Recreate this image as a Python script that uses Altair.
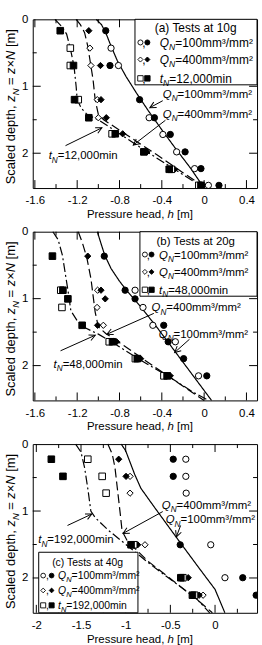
import math
import altair as alt
import pandas as pd

FONT = "Liberation Sans"
PLOT_W, PLOT_H = 226, 170
DEPTH_MAX = 2.52

# ------------------------------------------------------------------
# Pressure head h [m] against scaled depth zN [m]
# q100 = QN 100 mm3/mm2, q400 = QN 400 mm3/mm2, t = elapsed tN
# ------------------------------------------------------------------

# (a) tests at 10 g
a_q100_open_h = [-0.88, -0.81, -0.52, -0.39, -0.26, -0.09, 0.04]
a_q100_open_z = [0.43, 0.69, 1.47, 1.72, 1.98, 2.23, 2.48]
a_q100_fill_h = [-0.93, -0.89, -0.61, -0.47, -0.32, -0.18, -0.03, 0.14]
a_q100_fill_z = [0.17, 0.69, 1.20, 1.47, 1.72, 1.98, 2.23, 2.48]
a_q400_open_h = [-1.08, -1.07, -1.01, -1.00, -0.04]
a_q400_open_z = [0.43, 0.69, 1.20, 1.47, 2.48]
a_q400_fill_h = [-1.09, -0.98, -0.975, -0.925, -0.77, -0.54, -0.28, -0.02]
a_q400_fill_z = [0.17, 0.69, 1.20, 1.47, 1.71, 1.98, 2.24, 2.48]
a_t_open_h = [-1.265, -1.265, -1.19, -0.87, -0.31, -0.05]
a_t_open_z = [0.43, 0.69, 1.20, 1.71, 2.24, 2.48]
a_t_fill_h = [-1.36, -1.235, -1.225, -1.09, -0.84, -0.57, -0.33, -0.03]
a_t_fill_z = [0.17, 0.69, 1.20, 1.47, 1.71, 1.98, 2.24, 2.48]

a_q100_line_h = [-1.02, -0.97, -0.93, -0.88, -0.82, -0.74, -0.64, -0.53, -0.40, -0.27, -0.13, 0.0]
a_q100_line_z = [0.0, 0.08, 0.2, 0.4, 0.62, 0.85, 1.1, 1.36, 1.65, 1.93, 2.22, 2.52]
a_q400_line_h = [-1.21, -1.17, -1.13, -1.10, -1.08, -1.05, -1.03, -1.00, -0.95, -0.70, -0.45, -0.20, 0.0]
a_q400_line_z = [0.0, 0.08, 0.2, 0.4, 0.6, 0.9, 1.2, 1.42, 1.5, 1.76, 2.02, 2.29, 2.5]
a_t_line_h = [-1.41, -1.35, -1.30, -1.27, -1.23, -1.21, -1.20, -1.16, -1.10, -1.00, -0.75, -0.50, -0.25, -0.02]
a_t_line_z = [0.0, 0.1, 0.22, 0.4, 0.7, 1.0, 1.2, 1.33, 1.43, 1.5, 1.76, 2.02, 2.27, 2.5]

# (b) tests at 20 g
b_q100_open_h = [-0.653, -0.578, -0.485, -0.272, -0.053]
b_q100_open_z = [0.874, 1.131, 1.398, 1.644, 2.153]
b_q100_fill_h = [-0.944, -0.747, -0.653, -0.382, -0.34, -0.194, 0.025]
b_q100_fill_z = [0.365, 0.874, 1.003, 1.398, 1.644, 1.896, 2.153]
b_q400_open_h = [-1.007, -1.012, -0.953]
b_q400_open_z = [0.874, 1.131, 1.398]
b_q400_fill_h = [-1.10, -0.975, -0.935, -1.007, -0.828, -0.60, -0.32]
b_q400_fill_z = [0.365, 0.874, 1.003, 1.398, 1.644, 1.896, 2.153]
b_t_open_h = [-1.355, -1.344, -0.897, -0.65, -0.38]
b_t_open_z = [0.874, 1.131, 1.644, 1.896, 2.153]
b_t_fill_h = [-1.434, -1.335, -1.288, -1.153, -0.866, -0.632, -0.35]
b_t_fill_z = [0.365, 0.874, 1.003, 1.398, 1.644, 1.896, 2.153]

b_q100_line_h = [-1.01, -0.98, -0.94, -0.88, -0.80, -0.72, -0.60, -0.45, -0.27, -0.10, 0.07]
b_q100_line_z = [0.0, 0.15, 0.35, 0.55, 0.74, 0.9, 1.12, 1.42, 1.8, 2.16, 2.52]
b_q400_line_h = [-1.19, -1.15, -1.11, -1.07, -1.05, -1.03, -1.00, -0.93, -0.76, -0.55, -0.30, 0.0]
b_q400_line_z = [0.0, 0.17, 0.38, 0.7, 0.95, 1.2, 1.42, 1.52, 1.7, 1.93, 2.2, 2.52]
b_t_line_h = [-1.43, -1.38, -1.34, -1.31, -1.28, -1.26, -1.20, -1.12, -1.00, -0.88, -0.62, -0.34, -0.10, 0.04]
b_t_line_z = [0.0, 0.12, 0.35, 0.65, 0.95, 1.18, 1.33, 1.44, 1.53, 1.64, 1.9, 2.16, 2.4, 2.52]

# (c) tests at 40 g
c_q100_open_h = [-0.327, -0.327, -0.323, -0.048, 0.111]
c_q100_open_z = [0.226, 0.482, 0.733, 1.504, 1.996]
c_q100_fill_h = [-0.468, -0.468, -0.39, 0.31, 0.46]
c_q100_fill_z = [0.226, 0.482, 1.504, 1.996, 2.257]
c_q400_open_h = [-0.951, -0.951, -0.784, -0.134]
c_q400_open_z = [0.482, 0.733, 1.504, 2.257]
c_q400_fill_h = [-1.078, -0.996, -0.866, -0.30, -0.178]
c_q400_fill_z = [0.226, 0.482, 1.504, 1.996, 2.257]
c_t_open_h = [-1.424, -1.263, -1.219, -0.91, -0.36, -0.23]
c_t_open_z = [0.226, 0.482, 0.733, 1.504, 1.996, 2.257]
c_t_fill_h = [-1.832, -1.702, -0.94, -0.383, -0.253]
c_t_fill_z = [0.226, 0.482, 1.504, 1.996, 2.257]

c_q100_line_h = [-1.05, -1.00, -0.96, -0.90, -0.83, -0.68, -0.44, -0.18, 0.0, 0.11]
c_q100_line_z = [0.0, 0.1, 0.24, 0.45, 0.66, 0.94, 1.38, 1.85, 2.17, 2.52]
c_q400_line_h = [-1.20, -1.15, -1.12, -1.09, -1.06, -1.04, -0.98, -0.75, -0.47, -0.22, -0.03]
c_q400_line_z = [0.0, 0.15, 0.35, 0.7, 1.05, 1.3, 1.45, 1.75, 2.04, 2.3, 2.52]
c_t_line_h = [-1.56, -1.50, -1.46, -1.42, -1.39, -1.34, -1.20, -0.96, -0.72, -0.42, -0.20, -0.06]
c_t_line_z = [0.0, 0.12, 0.35, 0.7, 1.0, 1.1, 1.28, 1.54, 1.8, 2.1, 2.32, 2.52]

# axis ticks and labels
AB_XTICKS = [-1.6, -1.4, -1.2, -1.0, -0.8, -0.6, -0.4, -0.2, 0.0, 0.2, 0.4]
AB_XLABELS = [-1.6, -1.2, -0.8, -0.4, 0.0, 0.4]
C_XTICKS = [-2.0, -1.75, -1.5, -1.25, -1.0, -0.75, -0.5, -0.25, 0.0, 0.25]
C_XLABELS = [-2.0, -1.5, -1.0, -0.5, 0.0]
Z_TICKS = [0.5, 1.0, 1.5, 2.0]
Z_LABELS = [0, 1, 2]

# ------------------------------------------------------------------
# rich text helpers (Arial / Liberation Sans advance widths, 1/1000 em)
# ------------------------------------------------------------------
ADV = {' ': 278, '(': 333, ')': 333, ',': 278, '-': 333, '.': 278, '/': 278,
       '=': 584, '[': 278, ']': 278, '×': 584, '²': 333, '³': 333,
       'a': 556, 'b': 556, 'c': 500, 'd': 556, 'e': 556, 'g': 556, 'h': 556,
       'i': 222, 'l': 222, 'm': 833, 'n': 556, 'p': 556, 'r': 333, 's': 500,
       't': 278, 'u': 556, 'z': 500, 'N': 722, 'P': 667, 'Q': 778, 'S': 667,
       'T': 611}
SUB_SCALE = 0.72


def text_width(s, size):
    return sum(ADV.get(c, 556) for c in s) * size / 1000.0


def rich(runs, px, py, size, align="left", angle=0):
    """Lay out runs of (text, italic, subscript) one after another."""
    sizes = [size * SUB_SCALE if sub else size for _, _, sub in runs]
    widths = [text_width(t, s) for (t, _, _), s in zip(runs, sizes)]
    pos = {"left": 0.0, "center": -sum(widths) / 2, "right": -sum(widths)}[align]
    rows = []
    for (t, italic, sub), s, w in zip(runs, sizes, widths):
        body = t.strip(" ")
        lead = text_width(t[:len(t) - len(t.lstrip(" "))], s)
        drop = 0.3 * size if sub else 0.0
        if angle == 0:
            x, y = px + pos + lead, py + drop
        else:
            x, y = px + drop, py - pos - lead
        rows.append({"px": x, "py": y, "text": body, "italic": italic, "size": s, "angle": angle})
        pos += w
    return rows


QN100 = [("Q", True, False), ("N", True, True), ("=100mm³/mm²", False, False)]
QN400 = [("Q", True, False), ("N", True, True), ("=400mm³/mm²", False, False)]


def tn(label):
    return [("t", True, False), ("N", True, True), ("=" + label + "min", False, False)]


X_TITLE = [("Pressure head, ", False, False), ("h", True, False), (" [m]", False, False)]
Y_TITLE = [("Scaled depth, ", False, False), ("z", True, False), ("N", True, True),
           (" = ", False, False), ("z", True, False), ("×", False, False),
           ("N", True, False), (" [m]", False, False)]

PANELS = [
    dict(
        xdom=(-1.62, 0.5), xticks=AB_XTICKS, xlabels=AB_XLABELS,
        markers=[("circle", "open", a_q100_open_h, a_q100_open_z),
                 ("circle", "filled", a_q100_fill_h, a_q100_fill_z),
                 ("diamond", "open", a_q400_open_h, a_q400_open_z),
                 ("diamond", "filled", a_q400_fill_h, a_q400_fill_z),
                 ("square", "open", a_t_open_h, a_t_open_z),
                 ("square", "filled", a_t_fill_h, a_t_fill_z)],
        lines=[(a_q100_line_h, a_q100_line_z), (a_q400_line_h, a_q400_line_z), (a_t_line_h, a_t_line_z)],
        notes=[(QN100, 131, 79), (QN400, 131, 99), (tn("12,000"), 16, 141)],
        arrows=[(131, 82, 118, 89), (133.7, 101.7, 101.3, 126.7), (33, 127.3, 69.7, 109.3)],
        legend=dict(box=(103, 0, 226, 66), title="(a) Tests at 10g", title_xy=(165, 8.5),
                    rows=[23.3, 40.5, 59.5], mk=(108.5, 115.5), text_x=128, size=12, t="12,000"),
    ),
    dict(
        xdom=(-1.62, 0.5), xticks=AB_XTICKS, xlabels=AB_XLABELS,
        markers=[("circle", "open", b_q100_open_h, b_q100_open_z),
                 ("circle", "filled", b_q100_fill_h, b_q100_fill_z),
                 ("diamond", "open", b_q400_open_h, b_q400_open_z),
                 ("diamond", "filled", b_q400_fill_h, b_q400_fill_z),
                 ("square", "open", b_t_open_h, b_t_open_z),
                 ("square", "filled", b_t_fill_h, b_t_fill_z)],
        lines=[(b_q100_line_h, b_q100_line_z), (b_q400_line_h, b_q400_line_z), (b_t_line_h, b_t_line_z)],
        notes=[(QN400, 119.7, 80), (QN100, 127, 107), (tn("48,000"), 21, 137)],
        arrows=[(122, 82.3, 74.7, 103.3), (158, 108.3, 143, 121.7), (28, 120, 63, 104.3)],
        legend=dict(box=(108, 0, 226, 65), title="(b) Tests at 20g", title_xy=(165, 9.5),
                    rows=[23, 40.5, 58.5], mk=(113, 119.7), text_x=127.3, size=11.5, t="48,000"),
    ),
    dict(
        xdom=(-2.04, 0.47), xticks=C_XTICKS, xlabels=C_XLABELS,
        markers=[("circle", "open", c_q100_open_h, c_q100_open_z),
                 ("circle", "filled", c_q100_fill_h, c_q100_fill_z),
                 ("diamond", "open", c_q400_open_h, c_q400_open_z),
                 ("diamond", "filled", c_q400_fill_h, c_q400_fill_z),
                 ("square", "open", c_t_open_h, c_t_open_z),
                 ("square", "filled", c_t_fill_h, c_t_fill_z)],
        lines=[(c_q100_line_h, c_q100_line_z), (c_q400_line_h, c_q400_line_z), (c_t_line_h, c_t_line_z)],
        notes=[(QN400, 130, 65), (QN100, 134, 80), (tn("192,000"), 5.5, 100)],
        arrows=[(131, 68, 91, 90), (149, 82, 144.7, 93.5), (35, 82, 59.5, 70.5)],
        legend=dict(box=(6, 109, 106, 170), title="(c) Tests at 40g", title_xy=(56, 119.5),
                    rows=[132.5, 147.5, 162.5], mk=(10.5, 19), text_x=25.5, size=10.5, t="192,000"),
    ),
]

LINE_DASH = [[1, 0], [9, 4], [9, 3, 2, 3]]
MARK_SIZE = {"circle": 40, "diamond": 40, "square": 44}
ARROW_HEAD = "M-1,-0.5L0,0L-1,0.5"


def build_panel(p):
    x0, x1 = p["xdom"]
    kx = PLOT_W / (x1 - x0)
    ky = PLOT_H / DEPTH_MAX

    def hx(px):
        return x0 + px / kx

    def zy(py):
        return py / ky

    xs = alt.Scale(domain=[x0, x1], nice=False, zero=False)
    ys = alt.Scale(domain=[0, DEPTH_MAX], nice=False, zero=False, reverse=True)
    x_axis = alt.Axis(values=p["xlabels"], labelExpr="toString(datum.value)", ticks=False, tickSize=0,
                      domain=False, grid=False, title=None, labelFont=FONT, labelFontSize=11.5,
                      labelColor="black", labelPadding=7, labelFlush=False, labelOverlap=False)
    y_axis = alt.Axis(values=Z_LABELS, labelExpr="toString(datum.value)", ticks=False, tickSize=0,
                      domain=False, grid=False, title=None, labelFont=FONT, labelFontSize=11.5,
                      labelColor="black", labelPadding=5, labelFlush=False, labelOverlap=False)

    def X(f):
        return alt.X(f, type="quantitative", scale=xs, axis=x_axis)

    def Y(f):
        return alt.Y(f, type="quantitative", scale=ys, axis=y_axis)

    layers = []

    # inward ticks on all four sides
    vt = []
    for v in p["xticks"]:
        d = (8 if v in p["xlabels"] else 4) / ky
        vt.append({"v": v, "a": DEPTH_MAX, "b": DEPTH_MAX - d})
        vt.append({"v": v, "a": 0.0, "b": d})
    layers.append(alt.Chart(pd.DataFrame(vt)).mark_rule(color="black", strokeWidth=1).encode(
        x=X("v"), y=Y("a"), y2="b"))
    ht = []
    for v in Z_TICKS:
        d = (8 if v in Z_LABELS else 4) / kx
        ht.append({"v": v, "a": x0, "b": x0 + d})
        ht.append({"v": v, "a": x1, "b": x1 - d})
    layers.append(alt.Chart(pd.DataFrame(ht)).mark_rule(color="black", strokeWidth=1).encode(
        y=Y("v"), x=X("a"), x2="b"))

    # fitted profiles
    for (hs, zs), dash in zip(p["lines"], LINE_DASH):
        df = pd.DataFrame({"h": hs, "z": zs, "i": range(len(hs))})
        layers.append(alt.Chart(df).mark_line(color="black", strokeWidth=1.2, strokeDash=dash).encode(
            x=X("h"), y=Y("z"), order="i:Q"))

    # measured heads
    fill_scale = alt.Scale(domain=["open", "filled"], range=["white", "black"])
    for kind in ["circle", "diamond", "square"]:
        rows = []
        for k, state, hs, zs in p["markers"]:
            if k == kind:
                rows += [{"h": h, "z": z, "state": state} for h, z in zip(hs, zs)]
        layers.append(alt.Chart(pd.DataFrame(rows)).mark_point(
            shape=kind, filled=True, stroke="black", strokeWidth=1, opacity=1,
            size=MARK_SIZE[kind], clip=True).encode(
            x=X("h"), y=Y("z"), fill=alt.Fill("state:N", scale=fill_scale, legend=None)))

    # annotation arrows
    arr = []
    for sx, sy, tx, ty in p["arrows"]:
        ang = math.degrees(math.atan2(ty - sy, tx - sx)) % 360
        arr.append({"x": hx(sx), "y": zy(sy), "x2": hx(tx), "y2": zy(ty), "ang": ang})
    arr = pd.DataFrame(arr)
    layers.append(alt.Chart(arr).mark_rule(color="black", strokeWidth=1).encode(
        x=X("x"), y=Y("y"), x2="x2", y2="y2"))
    layers.append(alt.Chart(arr).mark_point(shape=ARROW_HEAD, filled=False, color="black",
                                            strokeWidth=1, size=150, opacity=1).encode(
        x=X("x2"), y=Y("y2"), angle=alt.Angle("ang:Q", scale=None)))

    # legend box
    lg = p["legend"]
    l, t, r, b = lg["box"]
    box = pd.DataFrame([{"x": hx(l), "x2": hx(r), "y": zy(t), "y2": zy(b)}])
    layers.append(alt.Chart(box).mark_rect(fill="white", stroke="black", strokeWidth=1).encode(
        x=X("x"), x2="x2", y=Y("y"), y2="y2"))
    s = lg["size"]
    msz = {"circle": 26 * s / 12, "diamond": 26 * s / 12, "square": 30 * s / 12}
    mk = []
    for kind, ry in zip(["circle", "diamond", "square"], lg["rows"]):
        mk.append({"x": hx(lg["mk"][0]), "y": zy(ry), "kind": kind, "fill": "white", "size": msz[kind]})
        mk.append({"x": hx(lg["mk"][1]), "y": zy(ry), "kind": kind, "fill": "black", "size": msz[kind]})
    layers.append(alt.Chart(pd.DataFrame(mk)).mark_point(filled=True, stroke="black", strokeWidth=0.9,
                                                         opacity=1).encode(
        x=X("x"), y=Y("y"), shape=alt.Shape("kind:N", scale=None, legend=None),
        fill=alt.Fill("fill:N", scale=None, legend=None), size=alt.Size("size:Q", scale=None, legend=None)))

    # all text: notes, legend text, axis titles
    rows = []
    for runs, px, py in p["notes"]:
        rows += rich(runs, px, py, 11.5)
    base = 0.36 * s
    tx, ty = lg["title_xy"]
    rows += rich([(lg["title"], False, False)], tx, ty + base, s, "center")
    cx = (lg["mk"][0] + lg["mk"][1]) / 2
    for runs, ry in zip([QN100, QN400, tn(lg["t"])], lg["rows"]):
        rows += rich([(",", False, False)], cx, ry + base, s, "center")
        rows += rich(runs, lg["text_x"], ry + base, s)
    rows += rich(X_TITLE, 108, 200, 11.5, "center")
    rows += rich(Y_TITLE, -18, 88, 13, "center", angle=270)
    txt = pd.DataFrame(rows)
    txt["x"] = txt["px"].map(hx)
    txt["y"] = txt["py"].map(zy)
    for italic in [False, True]:
        layers.append(alt.Chart(txt[txt["italic"] == italic]).mark_text(
            font=FONT, fontStyle="italic" if italic else "normal", align="left",
            baseline="alphabetic", color="black").encode(
            x=X("x"), y=Y("y"), text="text:N",
            size=alt.Size("size:Q", scale=None, legend=None),
            angle=alt.Angle("angle:Q", scale=None)))

    return alt.layer(*layers).properties(width=PLOT_W, height=PLOT_H)


chart = alt.vconcat(*[build_panel(p) for p in PANELS], spacing=44, bounds="flush").properties(
    padding={"left": 4, "top": 10, "right": 4, "bottom": 0}
).configure_view(stroke="black", strokeWidth=1)

chart.save("out.html", embed_options={"renderer": "svg", "actions": False})
